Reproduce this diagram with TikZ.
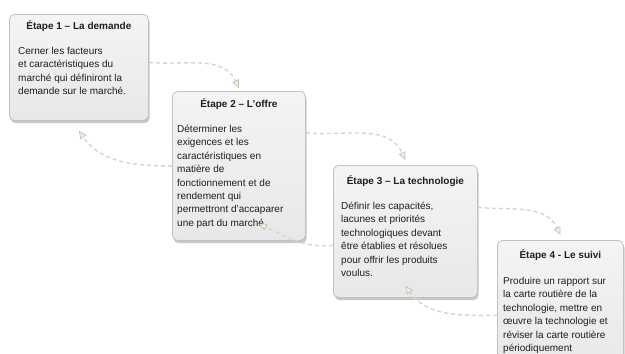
\documentclass[tikz,border=0pt]{standalone}
\usepackage{fontspec}
\setmainfont{Liberation Sans}
\usetikzlibrary{arrows.meta, positioning, shadows}

\definecolor{boxline}{HTML}{C2C2C2}
\definecolor{boxtop}{HTML}{F4F4F4}
\definecolor{boxbottom}{HTML}{E8E8E8}
\definecolor{flowline}{HTML}{D6D5C8}
\definecolor{tipedge}{HTML}{BDBCAE}
\definecolor{tipfill}{HTML}{EFEEE0}
\definecolor{ink}{HTML}{1E1E1E}

\begin{document}
\begin{tikzpicture}[
  x=1pt, y=-1pt,
  font=\fontsize{10}{13.4}\selectfont, text=ink,
  stepbox/.style={rectangle, rounded corners=5pt, draw=boxline, line width=0.8pt,
              top color=boxtop, bottom color=boxbottom, anchor=north west, inner sep=0pt,
              drop shadow={shadow xshift=1.2pt, shadow yshift=-2.8pt, opacity=.4, fill=black!55}},
  steptitle/.style={font=\fontsize{10}{13.4}\selectfont\bfseries, anchor=base, inner sep=0pt},
  stepbody/.style={anchor=north west, inner sep=0pt, align=left},
  flow/.style={draw=flowline, line width=1.4pt, dash pattern=on 4pt off 3pt,
              -{Triangle[length=8pt, width=7pt, color=tipedge, fill=tipfill, line width=0.6pt]}}
]
  \clip (0,0) rectangle (625,354);

  % the four steps
  \node[stepbox, minimum width=139pt, minimum height=106pt] (e1) at (9,14) {};
  \node[stepbox, minimum width=133pt, minimum height=149pt] (e2) at (172,91) {};
  \node[stepbox, minimum width=144pt, minimum height=132pt] (e3) at (333,165) {};
  \node[stepbox, minimum width=126pt, minimum height=130pt] (e4) at (497,240) {};

  \node[steptitle] (t1) at ([yshift=-15pt]e1.north) {Étape 1 – La demande};
  \node[stepbody] (b1) at ([shift={(9pt,-33pt)}]e1.north west)
    {Cerner les facteurs\\et caractéristiques du\\marché qui définiront la\\demande sur le marché.};

  \node[steptitle] (t2) at ([yshift=-16pt]e2.north) {Étape 2 – L’offre};
  \node[stepbody] (b2) at ([shift={(5pt,-34pt)}]e2.north west)
    {Déterminer les\\exigences et les\\caractéristiques en\\matière de\\fonctionnement et de\\rendement qui\\permettront d’accaparer\\une part du marché.};

  \node[steptitle] (t3) at ([yshift=-19pt]e3.north) {Étape 3 – La technologie};
  \node[stepbody] (b3) at ([shift={(8pt,-37pt)}]e3.north west)
    {Définir les capacités,\\lacunes et priorités\\technologiques devant\\être établies et résolues\\pour offrir les produits\\voulus.};

  \node[steptitle] (t4) at ([yshift=-18pt]e4.north) {Étape 4 - Le suivi};
  \node[stepbody] (b4) at ([shift={(6pt,-37pt)}]e4.north west)
    {Produire un rapport sur\\la carte routière de la\\technologie, mettre en\\œuvre la technologie et\\réviser la carte routière\\périodiquement};

  % forward and back links
  \draw[flow] ([yshift=5pt]e1.east) to[out=-5, in=115] ([yshift=3pt]e2.north);
  \draw[flow] (e2.west) to[out=180, in=-55] ([yshift=-10pt]e1.south);
  \draw[flow] ([yshift=33pt]e2.east) to[out=-5, in=115] ([yshift=5pt]e3.north);
  \draw[flow] ([yshift=-14pt]e3.west) to[out=185, in=-25] ([shift={(-47pt,17pt)}]e2.south east);
  \draw[flow] ([yshift=24pt]e3.east) to[out=-5, in=115] ([yshift=5pt]e4.north);
  \draw[flow] ([yshift=-10pt]e4.west) to[out=180, in=-55] ([yshift=12pt]e3.south);
\end{tikzpicture}
\end{document}
